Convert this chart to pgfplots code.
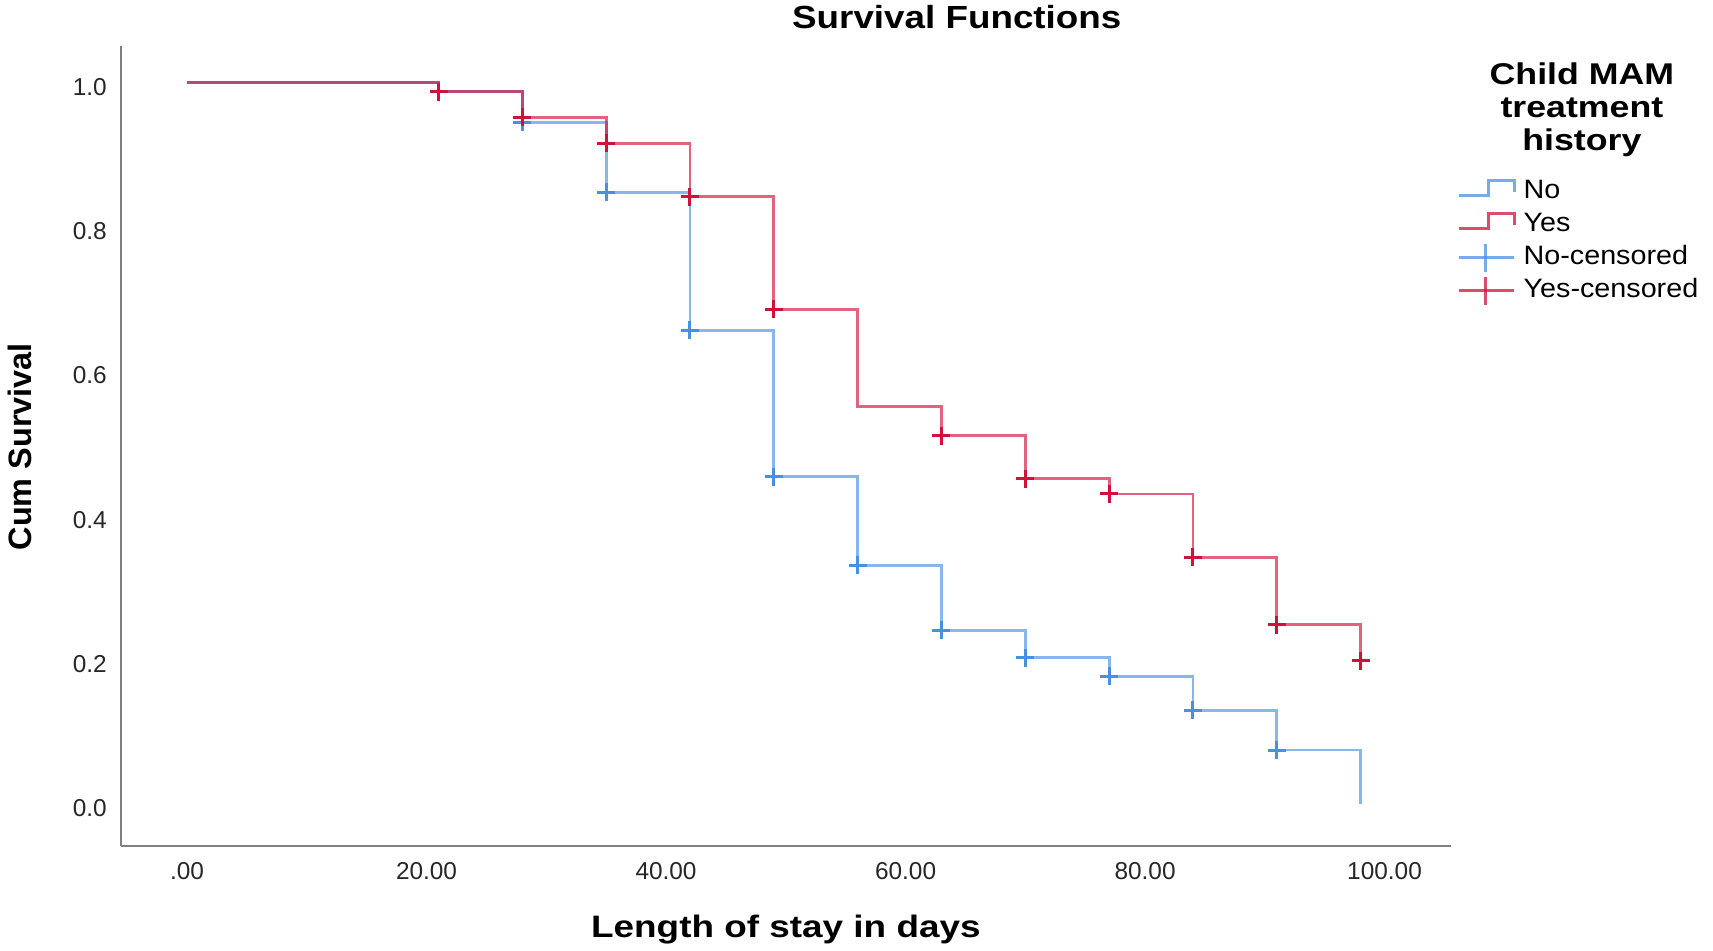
\documentclass[border=0pt]{standalone}
\usepackage{fontspec}
\setmainfont{Liberation Sans}
\newfontfamily\titlefont[FakeStretch=1.15]{Liberation Sans}
\newfontfamily\xlabfont[FakeStretch=1.19]{Liberation Sans}
\newfontfamily\legtitlefont[FakeStretch=1.19]{Liberation Sans}
\newfontfamily\legfont[FakeStretch=1.08]{Liberation Sans}
\usepackage{pgfplots}
\usepackage{pgfplotstable}
\pgfplotsset{compat=1.18}
\definecolor{kmblue}{RGB}{74,144,226}
\definecolor{kmred}{RGB}{210,16,58}
\definecolor{axgray}{RGB}{128,128,128}

\pgfplotstableread{
x y
0 1.000
21 0.9875
28 0.945
35 0.848
42 0.657
49 0.454
56 0.331
63 0.241
70 0.203
77 0.177
84 0.130
91 0.075
98 0.000
}\nostep
\pgfplotstableread{
x y
0 1.000
21 0.9875
28 0.952
35 0.916
42 0.842
49 0.686
56 0.551
63 0.511
70 0.451
77 0.430
84 0.342
91 0.249
98 0.199
}\yesstep
\pgfplotstableread{
x y
28 0.945
35 0.848
42 0.657
49 0.454
56 0.331
63 0.241
70 0.203
77 0.177
84 0.130
91 0.075
}\nocens
\pgfplotstableread{
x y
21 0.9875
28 0.952
35 0.916
42 0.842
49 0.686
63 0.511
70 0.451
77 0.430
84 0.342
91 0.249
98 0.199
}\yescens

\begin{document}
\begin{tikzpicture}
\begin{axis}[
  name=ax, at={(0pt,0pt)}, anchor=south west,
  scale only axis, width=665.15pt, height=400pt,
  xmin=-5.54, xmax=105.55, ymin=-0.058, ymax=1.051,
  axis lines*=left,
  axis line style={axgray, line width=1pt},
  major tick length=0pt,
  xtick={0,20,40,60,80,100},
  xticklabels={.00,20.00,40.00,60.00,80.00,100.00},
  ytick={0,0.2,0.4,0.6,0.8,1.0},
  yticklabels={0.0,0.2,0.4,0.6,0.8,1.0},
  xticklabel style={font=\fontsize{12.2}{14}\selectfont, color=black!85, inner sep=0pt, anchor=north, yshift=-7.8pt},
  yticklabel style={font=\fontsize{12.2}{14}\selectfont, color=black!85, inner sep=0pt, anchor=east, xshift=-6.8pt, yshift=-2pt},
  xlabel={\xlabfont\bfseries Length of stay in days},
  xlabel style={at={(axis description cs:0.5,-0.115)}, anchor=base, font=\fontsize{15.5}{18}\selectfont, inner sep=0pt},
  ylabel={\bfseries Cum Survival},
  ylabel style={at={(axis description cs:-0.0669,0.499)}, anchor=base, font=\fontsize{16.2}{19}\selectfont, inner sep=0pt},
  clip=false,
  legend style={at={(axis description cs:1.0052,0.8385)}, anchor=north west, draw=none, fill=none, inner sep=0pt, outer sep=0pt,
    font=\legfont\fontsize{13.3}{15}\selectfont, row sep=0pt,
    nodes={inner ysep=1.75pt, inner xsep=0pt, text height=10pt, text depth=3pt},
    /tikz/every even column/.append style={column sep=0pt}},
  legend cell align=left,
]
\addplot[const plot, kmblue, draw opacity=0.65, line width=1.4pt, forget plot] table {\nostep};
\addplot[const plot, kmred, draw opacity=0.65, line width=1.4pt, forget plot] table {\yesstep};
\addplot[only marks, mark=+, mark size=4.5pt, mark options={kmblue, line width=1.5pt}, forget plot] table {\nocens};
\addplot[only marks, mark=+, mark size=4.5pt, mark options={kmred, line width=1.5pt}, forget plot] table {\yescens};

\addlegendimage{legend image code/.code={\draw[kmblue, line width=1.3pt, draw opacity=0.75] (0pt,-1.8pt) -- (14.5pt,-1.8pt) -- (14.5pt,5.7pt) -- (27.5pt,5.7pt) -- (27.5pt,0pt); \path (32pt,0pt);}}
\addlegendentry{No}
\addlegendimage{legend image code/.code={\draw[kmred, line width=1.3pt, draw opacity=0.75] (0pt,-1.8pt) -- (14.5pt,-1.8pt) -- (14.5pt,5.7pt) -- (27.5pt,5.7pt) -- (27.5pt,0pt); \path (32pt,0pt);}}
\addlegendentry{Yes}
\addlegendimage{legend image code/.code={\draw[kmblue, line width=1.3pt, draw opacity=0.75] (0pt,0pt) -- (27.5pt,0pt); \draw[kmblue, line width=1.3pt, draw opacity=0.75] (13pt,-7pt) -- (13pt,7pt); \path (32pt,0pt);}}
\addlegendentry{No-censored}
\addlegendimage{legend image code/.code={\draw[kmred, line width=1.3pt, draw opacity=0.75] (0pt,0pt) -- (27.5pt,0pt); \draw[kmred, line width=1.3pt, draw opacity=0.75] (13pt,-7pt) -- (13pt,7pt); \path (32pt,0pt);}}
\addlegendentry{Yes-censored}

\node[align=center, anchor=north, inner sep=0pt, font=\legtitlefont\bfseries\fontsize{15}{16.5}\selectfont]
  at (axis description cs:1.0984,0.979) {Child MAM\\treatment\\history};
\node[anchor=base, inner sep=0pt, font=\titlefont\bfseries\fontsize{16}{19}\selectfont]
  at (axis description cs:0.6285,1.0221) {Survival Functions};
\end{axis}
\pgfresetboundingbox
\path[use as bounding box] (-60.35pt,-52.5pt) rectangle (796.15pt,423pt);
\end{tikzpicture}
\end{document}
